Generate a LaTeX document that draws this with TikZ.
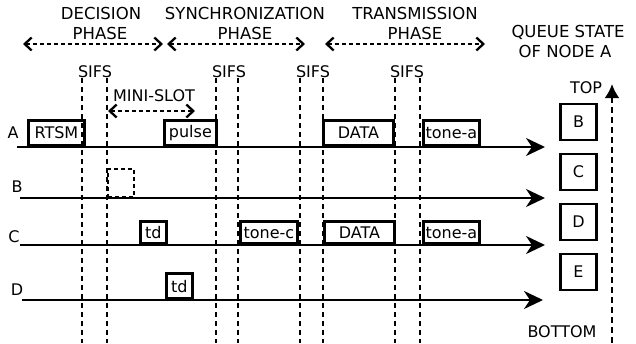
\documentclass[tikz,border=0pt]{standalone}
\usepackage{fontspec}
\setmainfont{DejaVu Sans}
\usetikzlibrary{arrows.meta}
\begin{document}
\begin{tikzpicture}[x=1pt,y=-1pt,
  lbl/.style={inner sep=0pt, font=\fontsize{16}{19}\selectfont},
  ttl/.style={inner sep=0pt, font=\fontsize{16.5}{19}\selectfont},
  slot/.style={draw, line width=2.8pt, inner sep=0pt, anchor=south west, font=\fontsize{16}{19}\selectfont},
  qbox/.style={draw, line width=2.8pt, minimum width=36pt, minimum height=36pt, inner sep=0pt, font=\fontsize{16}{19}\selectfont},
  axis/.style={line width=2.3pt, -{Stealth[length=19pt,width=18pt,inset=6pt]}},
  sifs/.style={line width=2.2pt, dash pattern=on 5pt off 4pt},
  phase/.style={line width=2.3pt, dash pattern=on 4pt off 3pt, {Straight Barb[length=7pt,width=13pt]}-{Straight Barb[length=7pt,width=13pt]}},
  qarrow/.style={line width=2.6pt, dash pattern=on 6pt off 4pt, -{Latex[length=14pt,width=15pt]}}
]
\useasboundingbox (0,0) rectangle (636,343);

% phase titles
\node[ttl] (dec1) at (101,13) {DECISION};
\node[ttl] (dec2) at (100,33) {PHASE};
\node[ttl] (syn1) at (245,13) {SYNCHRONIZATION};
\node[ttl] (syn2) at (245,33) {PHASE};
\node[ttl] (tra1) at (415,13) {TRANSMISSION};
\node[ttl] (tra2) at (415,33) {PHASE};
\node[ttl] (que1) at (568,32) {QUEUE STATE};
\node[ttl] (que2) at (565,51) {OF NODE A};

% phase arrows
\coordinate (pd1) at (23,44); \coordinate (pd2) at (163,44);
\coordinate (ps1) at (167,44); \coordinate (ps2) at (305,44);
\coordinate (pt1) at (325,44); \coordinate (pt2) at (485,44);
\draw[phase] (pd1) -- (pd2);
\draw[phase] (ps1) -- (ps2);
\draw[phase] (pt1) -- (pt2);

% SIFS labels
\node[lbl] (s1) at (95,72) {SIFS};
\node[lbl] (s2) at (229,72) {SIFS};
\node[lbl] (s3) at (313,72) {SIFS};
\node[lbl] (s4) at (407,72) {SIFS};

% mini-slot
\node[lbl] (ms) at (154,96) {MINI-SLOT};
\coordinate (m1) at (108,111); \coordinate (m2) at (195,111);
\draw[phase] (m1) -- (m2);

% row labels
\node[lbl] (la) at (13,133) {A};
\node[lbl] (lb) at (17,187) {B};
\node[lbl] (lc) at (14,237) {C};
\node[lbl] (ld) at (17,290) {D};

% row A slots
\node[slot, minimum width=56pt, minimum height=25pt] (rtsm) at (27,147) {RTSM};
\node[slot, minimum width=52pt, minimum height=25pt] (pulse) at (163,147) {pulse};
\node[slot, minimum width=70pt, minimum height=25pt] (dataA) at (322,147) {DATA};
\node[slot, minimum width=56pt, minimum height=25pt] (toneA1) at (422,147) {tone-a};
% row B slot
\node[slot, line width=2.3pt, dash pattern=on 4pt off 3pt, minimum width=26pt, minimum height=28pt] (bslot) at (107,198) {};
% row C slots
\node[slot, minimum width=26pt, minimum height=22pt] (tdC) at (139,245) {td};
\node[slot, minimum width=57pt, minimum height=22pt] (toneC) at (239,245) {tone-c};
\node[slot, minimum width=70pt, minimum height=22pt] (dataC) at (323,245) {DATA};
\node[slot, minimum width=56pt, minimum height=22pt] (toneA2) at (422,245) {tone-a};
% row D slot
\node[slot, minimum width=26pt, minimum height=25pt] (tdD) at (165,300) {td};

% row axes
\coordinate (As) at (17,147); \coordinate (Ae) at (545,147);
\coordinate (Bs) at (20,198); \coordinate (Be) at (545,198);
\coordinate (Cs) at (20,245); \coordinate (Ce) at (545,245);
\coordinate (Ds) at (22,300); \coordinate (De) at (543,300);
\draw[axis] (As) -- (Ae);
\draw[axis] (Bs) -- (Be);
\draw[axis] (Cs) -- (Ce);
\draw[axis] (Ds) -- (De);

% SIFS verticals
\foreach \x [count=\i] in {82,107,216,238,300,323,395,420} {
  \coordinate (v\i t) at (\x,78);
  \coordinate (v\i b) at (\x,343);
  \draw[sifs] (v\i t) -- (v\i b);
}

% queue
\node[qbox] (qB) at (578.5,122) {B};
\node[qbox] (qC) at (578.5,172) {C};
\node[qbox] (qD) at (578.5,222) {D};
\node[qbox] (qE) at (578.5,272) {E};
\node[lbl] (top) at (586,88) {TOP};
\node[lbl] (bot) at (562,332) {BOTTOM};
\coordinate (qa1) at (612,343); \coordinate (qa2) at (612,84);
\draw[qarrow] (qa1) -- (qa2);
\end{tikzpicture}
\end{document}
